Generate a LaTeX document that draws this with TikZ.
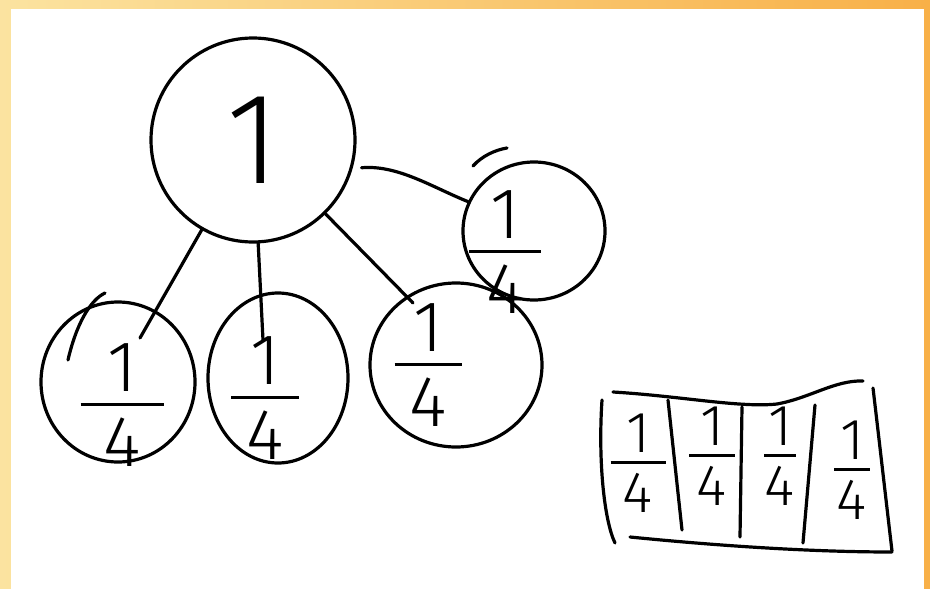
\documentclass[tikz,border=0pt]{standalone}
\usepackage{fontspec}
\newfontfamily\handfont{Fira Sans Light}
\usetikzlibrary{shapes.geometric}

\definecolor{frameyellow}{HTML}{FBE3A0}
\definecolor{frameorange}{HTML}{F8B048}

% stacked fraction 1 over 4: #1 bar length, #2 gap above and below the bar
\newcommand\qfrac[2]{\vbox{\offinterlineskip\halign{\hfil##\hfil\cr
  1\cr\noalign{\kern#2}\rule{#1}{3.2pt}\cr\noalign{\kern#2}4\cr}}}

\begin{document}
\begin{tikzpicture}[x=1pt,y=-1pt,
  ink/.style={draw=black,line width=3.2pt,line cap=round,line join=round},
  blob/.style={ink,ellipse,inner sep=0pt},
  bigfrac/.style={inner sep=0pt,font=\handfont\fontsize{72}{72}\selectfont},
  cellfrac/.style={inner sep=0pt,font=\handfont\fontsize{58}{58}\selectfont}]

% page frame
\shade[left color=frameyellow,right color=frameorange] (0,0) rectangle (930,589);
\fill[white] (11,9) rectangle (924,589);
\useasboundingbox (0,0) rectangle (930,589);

% the whole
\node[blob,circle,minimum size=204pt,font=\handfont\fontsize{130}{130}\selectfont]
  (root) at (253,140) {1};

% the four quarters
\node[blob,minimum width=154pt,minimum height=160pt] (qA) at (118,382) {};
\node[blob,minimum width=140pt,minimum height=170pt] (qB) at (278,378) {};
\node[blob,minimum width=172pt,minimum height=164pt] (qC) at (456,365) {};
\node[blob,minimum width=142pt,minimum height=138pt] (qD) at (534,231) {};

\node[bigfrac] (tA) at (122,405) {\qfrac{83pt}{12pt}};
\node[bigfrac] (tB) at (265,398) {\qfrac{68pt}{12pt}};
\node[bigfrac] (tC) at (428,365) {\qfrac{67pt}{12pt}};
\node[bigfrac] (tD) at (505,252) {\qfrac{72pt}{12pt}};

% retraced strokes over two quarters
\draw[ink] (68,360) .. controls (76,325) and (90,300) .. (105,293);
\draw[ink] (473,166) .. controls (482,156) and (495,150) .. (507,148);

% links from the whole to its parts
\coordinate (endA) at (140,338);
\coordinate (endB) at (263,340);
\coordinate (endC) at (413,303);
\draw[ink] (root) -- (endA);
\draw[ink] (root) -- (endB);
\draw[ink] (root) -- (endC);
\draw[ink,shorten <=9pt] (root.-16) .. controls +(45,-4) and +(-35,-14) .. (qD.156);

% strip of four quarters
\draw[ink] (613,392) .. controls (680,396) and (740,408) .. (777,404)
           .. controls (810,398) and (835,380) .. (863,381);
\draw[ink] (602,400) .. controls (598,460) and (604,520) .. (615,543);
\draw[ink] (630,537) .. controls (700,544) and (800,552) .. (892,552);
\draw[ink] (873,388) .. controls (878,430) and (886,500) .. (892,551);
\draw[ink] (668,400) -- (682,530);
\draw[ink] (742,407) -- (740,537);
\draw[ink] (815,405) -- (803,543);

\node[cellfrac] (c1) at (638,463) {\qfrac{55pt}{9pt}};
\node[cellfrac] (c2) at (712,456) {\qfrac{46pt}{9pt}};
\node[cellfrac] (c3) at (780,456) {\qfrac{32pt}{9pt}};
\node[cellfrac] (c4) at (852,470) {\qfrac{36pt}{9pt}};
\end{tikzpicture}
\end{document}
